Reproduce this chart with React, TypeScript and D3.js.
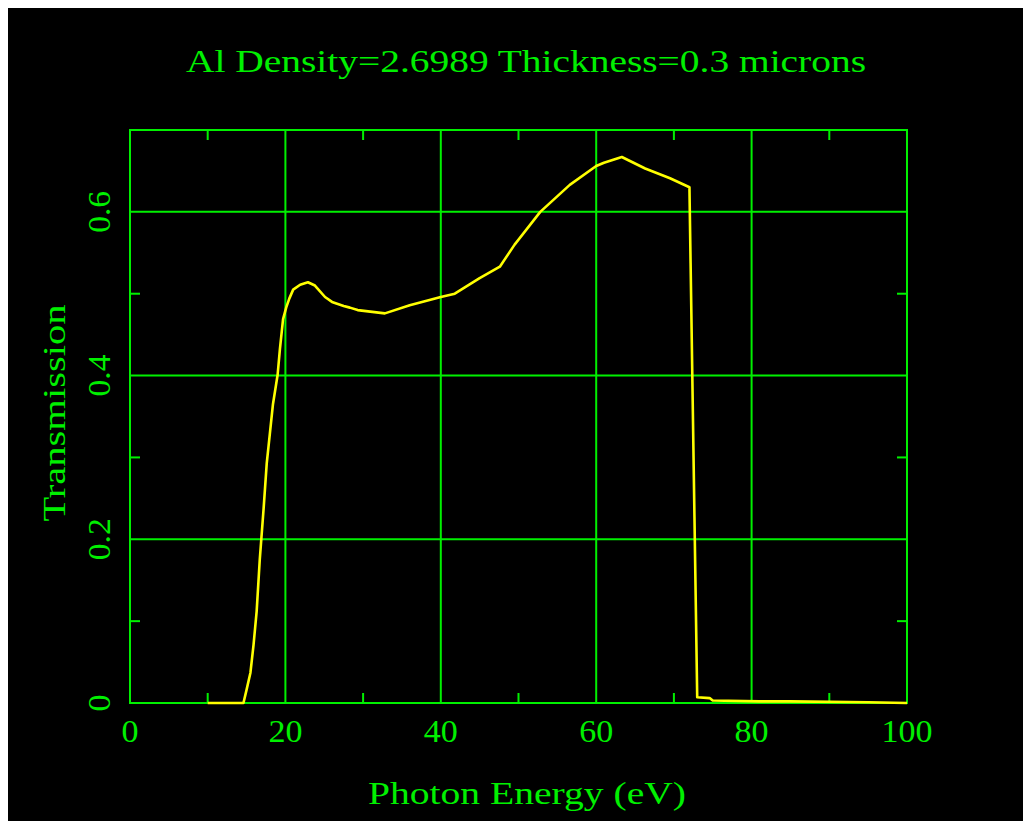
import React from "react";
import * as d3 from "d3";

const titleText = "Al Density=2.6989 Thickness=0.3 microns";
const xLabelText = "Photon Energy (eV)";
const yLabelText = "Transmission";

const xMajorTicks = [0, 20, 40, 60, 80, 100];
const xMinorTicks = [10, 30, 50, 70, 90];
const yMajorTicks = [0, 0.2, 0.4, 0.6];
const yMinorTicks = [0.1, 0.3, 0.5];
const yTickLabels = ["0", "0.2", "0.4", "0.6"];

const energy = [
  10, 14.6, 15.0, 15.5, 15.9, 16.3, 16.7, 17.2, 17.6, 18.0, 18.4, 19.0, 19.3, 19.7,
  20.1, 20.5, 21.0, 21.9, 22.9, 23.8, 25.1, 26.0, 27.5, 28.3, 29.3, 32.8, 36, 40,
  41.8, 45, 47.6, 49.5, 52.8, 56.6, 60, 61, 63.3, 66.3, 69.5, 72, 73, 74.6, 75, 81,
  85, 95, 100,
];
const transmission = [
  0, 0, 0.016, 0.037, 0.071, 0.112, 0.175, 0.238, 0.293, 0.329, 0.365, 0.401, 0.433,
  0.469, 0.483, 0.494, 0.505, 0.511, 0.514, 0.51, 0.496, 0.49, 0.485, 0.483, 0.48,
  0.476, 0.486, 0.496, 0.5, 0.519, 0.533, 0.56, 0.6, 0.633, 0.656, 0.66, 0.667, 0.653,
  0.641, 0.63, 0.007, 0.006, 0.003, 0.002, 0.002, 0.001, 0,
];

const W = 1015;
const H = 813;
const left = 122;
const right = 899;
const top = 122;
const bottom = 695;

const GREEN = "#00f000";
const YELLOW = "#ffff00";
const FONT = "'Liberation Serif', 'DejaVu Serif', serif";

export default function App() {
  const x = d3.scaleLinear().domain([0, 100]).range([left, right]);
  const y = d3.scaleLinear().domain([0, 0.7]).range([bottom, top]);
  const pts: [number, number][] = energy.map((e, i) => [e, transmission[i]]);
  const line = d3
    .line<[number, number]>()
    .x((d) => x(d[0]))
    .y((d) => y(d[1]));

  const tickLen = 10;
  const fs = 32;

  return (
    <svg
      width={W}
      height={H}
      style={{ display: "block", background: "#000", position: "fixed", left: 8, top: 8 }}
    >
      <rect x={0} y={0} width={W} height={H} fill="#000" />
      {xMajorTicks.map((t) => (
        <line key={"gx" + t} x1={x(t)} x2={x(t)} y1={top} y2={bottom} stroke={GREEN} strokeWidth={2} />
      ))}
      {yMajorTicks.map((t) => (
        <line key={"gy" + t} x1={left} x2={right} y1={y(t)} y2={y(t)} stroke={GREEN} strokeWidth={2} />
      ))}
      {xMinorTicks.map((t) => (
        <g key={"mx" + t}>
          <line x1={x(t)} x2={x(t)} y1={bottom} y2={bottom - tickLen} stroke={GREEN} strokeWidth={2} />
          <line x1={x(t)} x2={x(t)} y1={top} y2={top + tickLen} stroke={GREEN} strokeWidth={2} />
        </g>
      ))}
      {yMinorTicks.map((t) => (
        <g key={"my" + t}>
          <line x1={left} x2={left + tickLen} y1={y(t)} y2={y(t)} stroke={GREEN} strokeWidth={2} />
          <line x1={right} x2={right - tickLen} y1={y(t)} y2={y(t)} stroke={GREEN} strokeWidth={2} />
        </g>
      ))}
      <rect x={left} y={top} width={right - left} height={bottom - top} fill="none" stroke={GREEN} strokeWidth={2} />
      <path d={line(pts) || ""} fill="none" stroke={YELLOW} strokeWidth={2.6} strokeLinejoin="round" />
      {xMajorTicks.map((t) => {
        const s = String(t);
        return (
          <text
            key={"xl" + t}
            x={x(t)}
            y={734}
            fill={GREEN}
            fontFamily={FONT}
            fontSize={fs}
            textAnchor="middle"
            textLength={s.length * 17}
            lengthAdjust="spacingAndGlyphs"
          >
            {s}
          </text>
        );
      })}
      {yMajorTicks.map((t, i) => {
        const s = yTickLabels[i];
        return (
          <text
            key={"yl" + t}
            transform={`translate(102,${y(t)}) rotate(-90)`}
            fill={GREEN}
            fontFamily={FONT}
            fontSize={fs}
            textAnchor="middle"
            textLength={s.length === 1 ? 17 : 42}
            lengthAdjust="spacingAndGlyphs"
          >
            {s}
          </text>
        );
      })}
      <text
        x={518}
        y={64}
        fill={GREEN}
        fontFamily={FONT}
        fontSize={fs}
        textAnchor="middle"
        textLength={680}
        lengthAdjust="spacingAndGlyphs"
      >
        {titleText}
      </text>
      <text
        x={519}
        y={796}
        fill={GREEN}
        fontFamily={FONT}
        fontSize={fs}
        textAnchor="middle"
        textLength={318}
        lengthAdjust="spacingAndGlyphs"
      >
        {xLabelText}
      </text>
      <text
        transform={`translate(57,405) rotate(-90)`}
        fill={GREEN}
        fontFamily={FONT}
        fontSize={fs}
        textAnchor="middle"
        textLength={217}
        lengthAdjust="spacingAndGlyphs"
      >
        {yLabelText}
      </text>
    </svg>
  );
}
